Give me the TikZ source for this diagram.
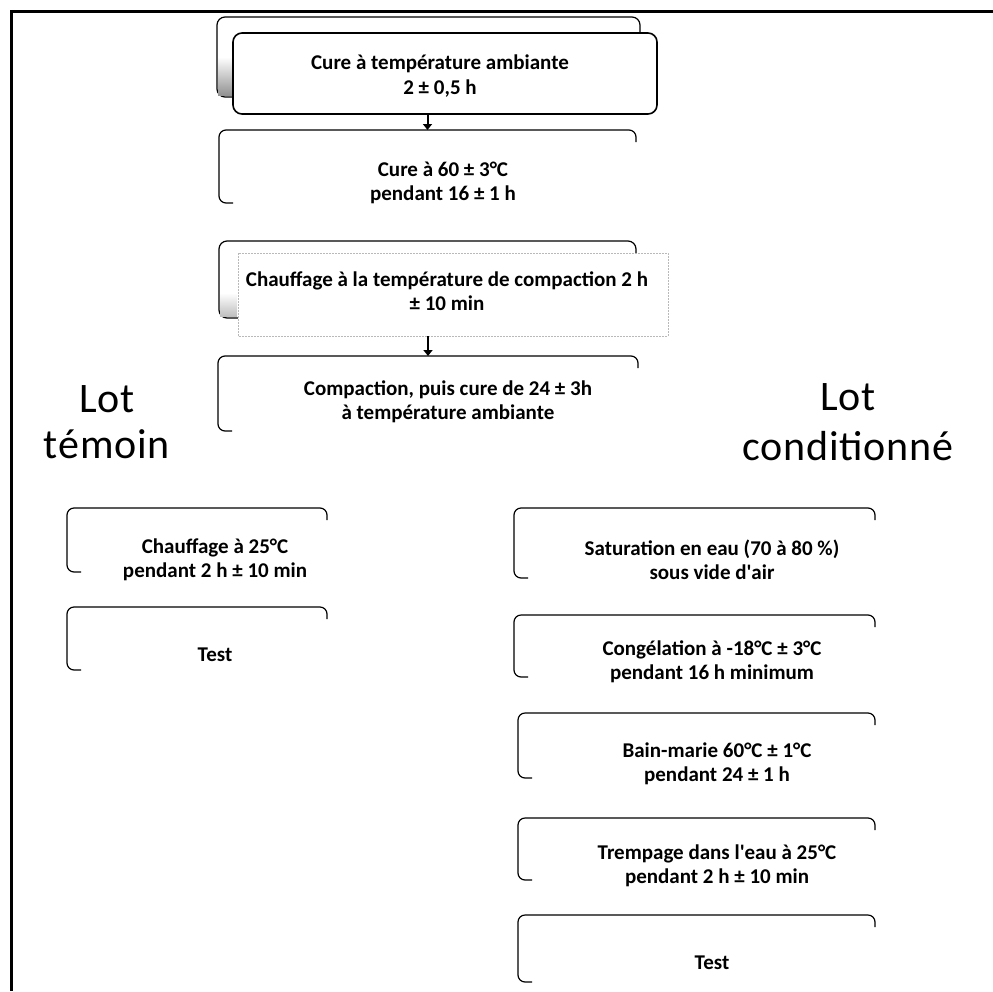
\documentclass[tikz,border=0pt]{standalone}
\usepackage{fontspec}
\setmainfont{Carlito}
\newfontfamily\lotfont[LetterSpace=2]{Carlito}
\usetikzlibrary{arrows.meta}
\tikzset{
  bx/.style={inner sep=0pt, outer sep=0pt, anchor=north west},
  brk/.style={line width=1.2pt, rounded corners=7pt},
  fullbox/.style={line width=1.6pt, rounded corners=9pt, fill=white},
  dashbox/.style={draw=gray!55, line width=0.7pt, dash pattern=on 2pt off 1pt, fill=white},
  txt/.style={align=center, inner sep=0pt, font=\fontsize{21}{24.5}\selectfont\bfseries},
  lot/.style={inner sep=0pt, anchor=base, font=\lotfont\fontsize{42}{46}\selectfont},
  conn/.style={line width=2pt, -{Triangle[width=9pt,length=6pt]}}
}
\newcommand\brkbox[1]{\draw[brk] ([yshift=-12pt]#1.north east) -- (#1.north east) -- (#1.north west) -- (#1.south west) -- ([xshift=14pt]#1.south west);}
\begin{document}
\begin{tikzpicture}[x=1pt,y=-1pt]
\useasboundingbox (0,0) rectangle (993,991);
% frame
\draw[line width=3pt] (993,11) -- (11,11) -- (11,991);
% box nodes
\node[bx, minimum width=423pt, minimum height=80pt] (b1b) at (217,17) {};
\node[bx, minimum width=424pt, minimum height=81pt] (b1f) at (233,33) {};
\node[bx, minimum width=417pt, minimum height=73pt] (b2) at (219,130) {};
\node[bx, minimum width=417pt, minimum height=77pt] (b3b) at (219,241) {};
\node[bx, minimum width=430pt, minimum height=83pt] (b3f) at (238,253) {};
\node[bx, minimum width=420pt, minimum height=75pt] (b4) at (218,356) {};
\node[bx, minimum width=260pt, minimum height=64pt] (l1) at (67,508) {};
\node[bx, minimum width=260pt, minimum height=63pt] (l2) at (67,607) {};
\node[bx, minimum width=361pt, minimum height=70pt] (r1) at (514,508) {};
\node[bx, minimum width=361pt, minimum height=62pt] (r2) at (514,615) {};
\node[bx, minimum width=357pt, minimum height=65pt] (r3) at (518,713) {};
\node[bx, minimum width=357pt, minimum height=62pt] (r4) at (518,818) {};
\node[bx, minimum width=357pt, minimum height=67pt] (r5) at (518,915) {};
% stacked box 1
\draw[line width=1.2pt, rounded corners=8pt] (b1b.south west) rectangle (b1b.north east);
\shade[top color=white, bottom color=gray!85] ([xshift=1pt,yshift=40pt]b1b.south west) rectangle ([xshift=16pt,yshift=2pt]b1b.south west);
\draw[fullbox] (b1f.south west) rectangle (b1f.north east);
% stacked box 3
\draw[line width=1.2pt, rounded corners=8pt] (b3b.south west) rectangle (b3b.north east);
\shade[top color=white, bottom color=gray!50] ([xshift=1pt,yshift=25pt]b3b.south west) rectangle ([xshift=18pt,yshift=2pt]b3b.south west);
\draw[dashbox] (b3f.south west) rectangle (b3f.north east);
% bracket boxes
\brkbox{b2}
\brkbox{b4}
\brkbox{l1}
\brkbox{l2}
\brkbox{r1}
\brkbox{r2}
\brkbox{r3}
\brkbox{r4}
\brkbox{r5}
% connectors
\draw[conn] (b1f.south -| b2.north) -- (b2.north);
\draw[conn] (b3f.south -| b4.north) -- (b4.north);
% texts
\node[txt] (t1) at (440,76) {Cure à température ambiante\\2 ± 0,5 h};
\node[txt] (t2) at (443,183) {Cure à 60 ± 3°C\\pendant 16 ± 1 h};
\node[txt] (t3) at (447,291) {Chauffage à la température de compaction 2 h\\± 10 min};
\node[txt] (t4) at (448,402) {Compaction, puis cure de 24 ± 3h\\à température ambiante};
\node[txt] (tl1) at (215,560) {Chauffage à 25°C\\pendant 2 h ± 10 min};
\node[txt] (tl2) at (215,655) {Test};
\node[txt] (tr1) at (712,560) {Saturation en eau (70 à 80 \%)\\sous vide d\textquotesingle air};
\node[txt] (tr2) at (712,662) {Congélation à -18°C ± 3°C\\pendant 16 h minimum};
\node[txt] (tr3) at (717,764) {Bain-marie 60°C ± 1°C\\pendant 24 ± 1 h};
\node[txt] (tr4) at (717,866) {Trempage dans l\textquotesingle eau à 25°C\\pendant 2 h ± 10 min};
\node[txt] (tr5) at (712,963) {Test};
\node[lot] (lt1) at (107,412) {Lot};
\node[lot] (lt2) at (107,458) {témoin};
\node[lot] (lc1) at (848,410) {Lot};
\node[lot] (lc2) at (848,460) {conditionné};
\end{tikzpicture}
\end{document}
